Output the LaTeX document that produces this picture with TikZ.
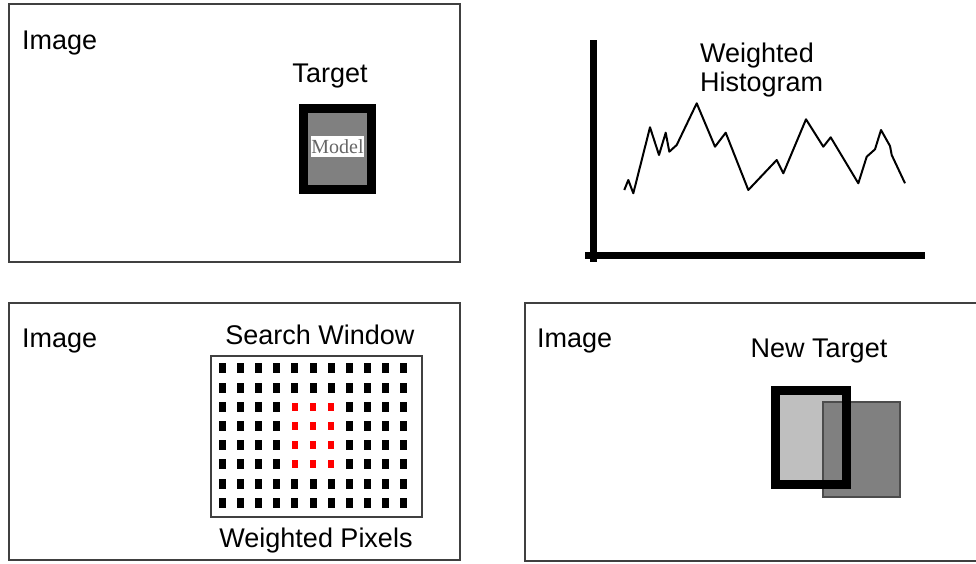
\documentclass[tikz,border=0pt]{standalone}
\usepackage{fontspec}
\setmainfont{Liberation Sans}
\newfontfamily\modelfont{Liberation Serif}
\begin{document}
\begin{tikzpicture}[x=1pt, y=-1pt,
	frame/.style={draw=black!75, line width=2pt},
	lbl/.style={font=\fontsize{27}{29}\selectfont, inner sep=0pt},
	pix/.style={fill=black},
	hotpix/.style={fill=red}]
	\useasboundingbox (0,0) rectangle (976,563);
	% the three image frames
	\draw[frame] (9,4) rectangle (460,262);
	\draw[frame] (9,303) rectangle (460,560);
	\draw[frame] (525,303) rectangle (990,561);
	\node[lbl, anchor=base west] (img1) at (22,49) {Image};
	\node[lbl, anchor=base west] (img2) at (22,347) {Image};
	\node[lbl, anchor=base west] (img3) at (537,347) {Image};
	% target with model
	\node[lbl, anchor=base] (target) at (330,82) {Target};
	\draw[line width=9pt, fill=black!50] (303.5,108.5) rectangle (371.5,189.5);
	\node[fill=white, minimum width=53pt, minimum height=21pt, inner sep=0pt,
		font=\modelfont\fontsize{20}{20}\selectfont, text=black!60] (model) at (337.5,146.5) {Model};
	% weighted histogram
	\node[lbl, align=left, anchor=base west] (hist) at (700,91) {Weighted\\Histogram};
	\draw[line width=7pt] (593.5,40) -- (593.5,262);
	\draw[line width=7pt] (585,255.5) -- (925,255.5);
	\draw[line width=2pt, line join=round] (624.3,190) -- (628.3,180) -- (633.3,193.3) -- (650,127.3)
		-- (659,155) -- (665.7,132.7) -- (669.3,151.7) -- (676.7,145) -- (696.7,103.3)
		-- (715,146.7) -- (725.7,132.7) -- (748.3,190) -- (776.7,160) -- (783.3,173.3)
		-- (806,119.3) -- (823.3,146.7) -- (830.7,137.3) -- (858.3,183.3) -- (866.7,156.7)
		-- (875,149.3) -- (881,130) -- (890,146) -- (891.7,155) -- (905,183.3);
	% search window
	\node[lbl, anchor=base] (search) at (320,344) {Search Window};
	\draw[draw=black!75, line width=1.5pt] (211,356) rectangle (422,517);
	\foreach \c in {0,...,10} {
		\foreach \r in {0,...,7} {
			\pgfmathsetmacro{\px}{222.7+18.07*\c}
			\pgfmathsetmacro{\py}{368.3+19.2*\r}
			\draw[draw=none, pix] (\px-3.5,\py-5) rectangle ++(7,10);
		}
	}
	\foreach \c in {4,5,6} {
		\foreach \r in {2,...,5} {
			\pgfmathsetmacro{\px}{222.7+18.07*\c}
			\pgfmathsetmacro{\py}{368.3+19.2*\r}
			\draw[draw=none, fill=white] (\px-3.5,\py-5) rectangle ++(7,10);
			\draw[draw=none, hotpix] (\px-3,\py-4) rectangle ++(6,8);
		}
	}
	\node[lbl, anchor=base] (pixels) at (316,547) {Weighted Pixels};
	% new target
	\node[lbl, anchor=base] (newtarget) at (819,357) {New Target};
	\fill[black!25] (775,390.5) rectangle (846,484.5);
	\draw[fill=black!50, draw=black!70, line width=1.5pt] (823,402) rectangle (900,497);
	\draw[line width=9pt] (775,390.5) rectangle (846,484.5);
\end{tikzpicture}
\end{document}
